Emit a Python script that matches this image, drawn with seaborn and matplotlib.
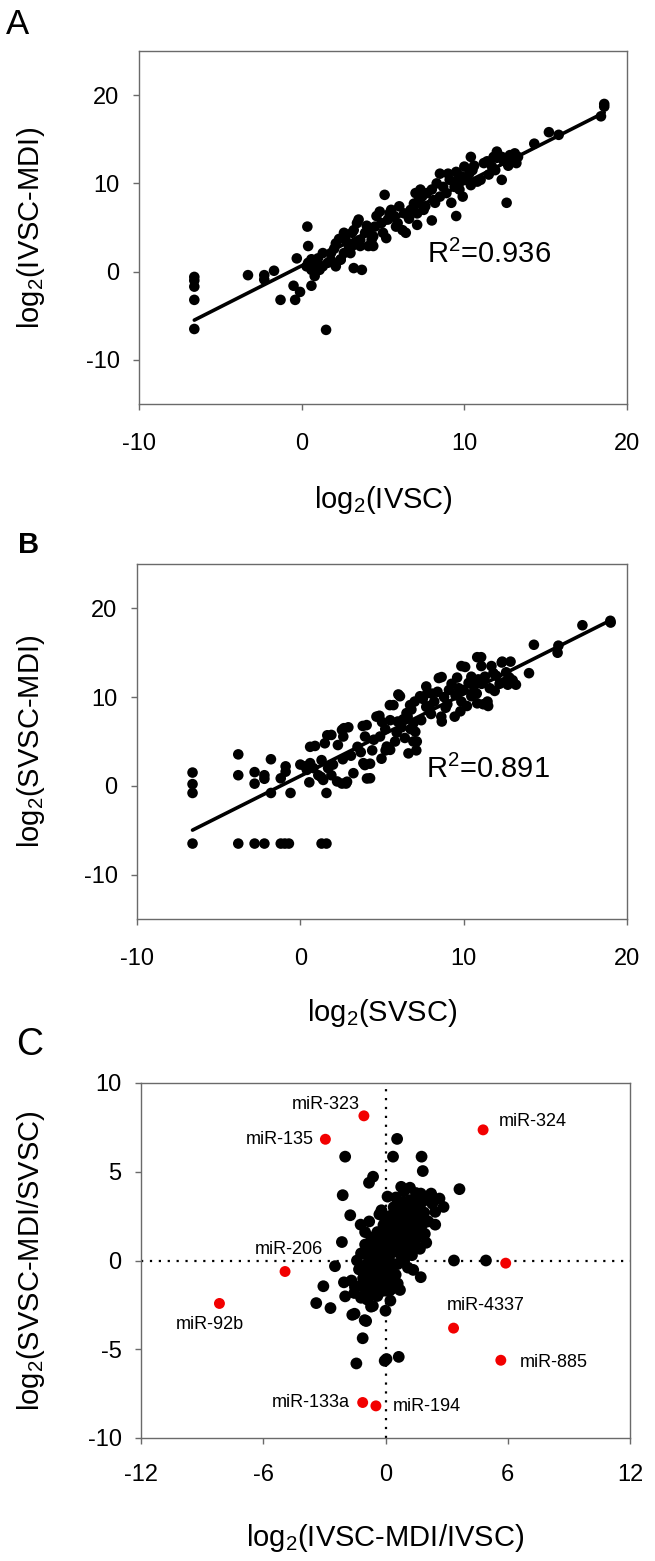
import numpy as np
import pandas as pd
import matplotlib
matplotlib.use("Agg")
import matplotlib.pyplot as plt
import seaborn as sns

# ---------------- data ----------------
# Panel A: log2(IVSC) vs log2(IVSC-MDI)
a_ivsc = [
    -6.6, -6.6, -6.6, -6.6, -6.6, -3.3, -2.3, -2.3, -1.7, -1.3,
    -0.5, -0.3, -0.4, -0.1, 0.6, 0.35, 0.4, 1.5, 3.2, 3.7,
    5.1, 12.6, 12.3, 9.5, 8.0, 7.1, 10.4, 14.3, 15.2, 15.8,
    18.4, 18.6, 18.6, 0.6, 0.4, 0.8, 1.0, 1.3, 1.8, 1.8,
    2.1, 2.3, 2.6, 2.7, 2.9, 3.0, 3.1, 3.2, 3.4, 3.5,
    3.6, 3.9, 4.1, 4.3, 4.4, 4.5, 4.6, 4.8, 4.9, 5.0,
    5.2, 5.3, 5.4, 5.7, 5.8, 5.9, 6.2, 6.3, 6.4, 6.7,
    6.9, 7.1, 7.2, 7.4, 7.6, 7.7, 8.0, 8.1, 8.2, 8.5,
    8.7, 8.9, 9.0, 9.1, 9.2, 9.4, 9.5, 9.6, 9.7, 9.9,
    10.0, 10.1, 10.3, 10.5, 10.8, 11.0, 11.2, 11.4, 11.7, 11.8,
    12.0, 12.3, 12.4, 12.8, 13.1, 13.2, 13.3, 1.3, 1.6, 2.1,
    2.4, 2.6, 3.1, 3.6, 4.1, 4.4, 0.8, 1.1, 0.3, 0.6,
    8.5, 11.9, 7.0, 7.3, 8.3, 5.5, 6.0, 2.0, 3.3, 4.0,
    10.6, 11.5, 12.7, 12.9, 6.6, 7.5, 9.8, 10.4, 12.0, 2.4,
]
a_ivsc_mdi = [
    -0.6, -1.0, -1.7, -3.2, -6.5, -0.4, -0.4, -0.9, 0.1, -3.2,
    -1.6, 1.5, -3.2, -2.3, -1.6, 5.1, 2.9, -6.6, 0.4, 0.2,
    8.7, 7.8, 10.4, 6.3, 5.8, 5.3, 13.0, 14.5, 15.8, 15.5,
    17.6, 19.0, 18.7, 0.2, 1.0, 0.7, 1.5, 2.1, 1.3, 2.1,
    3.2, 3.7, 4.4, 3.6, 2.9, 2.1, 4.4, 4.7, 5.5, 5.9,
    3.6, 4.4, 4.7, 3.6, 2.9, 5.1, 6.3, 6.8, 5.5, 4.4,
    3.8, 5.9, 6.6, 6.3, 5.1, 5.5, 4.7, 6.6, 4.4, 7.0,
    7.7, 6.6, 8.1, 8.5, 7.4, 8.9, 9.3, 8.1, 7.8, 8.5,
    9.6, 8.9, 11.1, 10.4, 7.8, 9.6, 11.3, 10.4, 9.3, 8.5,
    11.9, 10.4, 11.1, 11.5, 10.2, 10.4, 12.3, 12.5, 11.9, 13.0,
    12.9, 13.0, 12.6, 13.2, 13.4, 12.3, 13.0, 0.6, 1.0, 0.6,
    1.4, 2.1, 2.9, 2.9, 2.9, 4.0, -0.5, 0.2, 0.6, 1.4,
    11.1, 11.5, 8.9, 9.3, 10.0, 7.0, 7.4, 2.6, 3.3, 5.2,
    12.0, 11.0, 12.0, 12.4, 6.0, 7.0, 10.8, 9.8, 13.6, 1.35,
]

# Panel B: log2(SVSC) vs log2(SVSC-MDI)
b_svsc = [
    -6.6, -6.6, -6.6, -6.6, -3.8, -3.8, -3.8, -2.8, -2.8, -2.8,
    -2.2, -2.2, -2.2, -1.8, -1.8, -1.2, -1.2, -0.95, -0.7, -0.9,
    -0.9, -0.6, 0.0, 0.3, 0.6, 0.55, 1.6, 1.6, 1.3, 1.65,
    2.67, 2.55, 3.82, 4.66, 4.08, 2.8, 2.55, 1.27, 1.9, 3.95,
    5.22, 4.97, 6.62, 7.13, 6.75, 6.0, 5.48, 7.77, 8.48, 9.86,
    10.83, 12.87, 14.3, 15.8, 15.75, 17.27, 18.98, 19.0, 14.0, 12.7,
    13.2, 11.46, 10.83, 9.8, 8.66, 12.36, 11.08, 0.6, 0.4, 0.9,
    1.5, 1.4, 1.9, 2.25, 2.63, 2.86, 2.94, 3.25, 3.86, 3.96,
    4.06, 4.27, 4.27, 4.84, 4.88, 5.29, 5.5, 5.8, 5.7, 5.96,
    6.1, 6.57, 6.72, 6.92, 6.92, 7.04, 7.1, 7.33, 7.71, 7.71,
    8.04, 8.63, 8.65, 9.26, 9.45, 9.86, 10.09, 10.47, 10.47, 11.07,
    11.2, 11.5, 11.82, 12.33, 6.3, 6.5, 6.8, 7.0, 7.5, 7.9,
    8.2, 8.4, 8.8, 9.0, 9.1, 9.5, 9.7, 10.0, 10.3, 10.6,
    10.9, 11.1, 11.3, 11.6, 12.0, 12.2, 12.6, 5.2, 5.5, 5.9,
    6.2, 4.5, 3.5, 3.1, 2.6, 2.0, 1.7, 2.3, 3.7, 4.4,
    5.0, 6.4, 7.4, 8.0, 8.9, 10.2, 1.1, 0.8, 1.3, 9.6,
    10.8, 11.9, 12.8, 13.0, 12.5, 11.7,
]
b_svsc_mdi = [
    1.5, 0.2, -0.8, -6.5, 3.55, 1.2, -6.5, 1.55, 0.25, -6.5,
    1.2, 0.8, -6.5, 3.0, -0.8, 0.85, -6.5, -6.5, -6.5, 2.2,
    1.6, -0.8, 2.4, 2.2, 4.4, 0.4, -0.8, -6.5, -6.5, 5.7,
    6.5, 6.3, 6.75, 7.8, 0.83, 0.26, 0.26, 1.0, 1.2, 2.34,
    4.0, 3.06, 3.66, 5.0, 6.4, 10.3, 9.1, 10.45, 12.15, 13.5,
    14.5, 14.0, 15.9, 15.8, 15.0, 18.1, 18.6, 18.4, 12.7, 11.4,
    11.4, 9.5, 9.3, 8.4, 7.25, 14.0, 13.5, 2.56, 1.8, 4.5,
    4.8, 0.67, 5.74, 0.5, 5.56, 0.47, 6.6, 1.43, 2.56, 5.56,
    6.85, 2.5, 0.86, 7.9, 5.56, 4.43, 4.06, 5.0, 9.1, 7.25,
    10.1, 7.8, 9.1, 5.0, 7.05, 6.1, 4.0, 10.1, 8.9, 11.2,
    10.4, 7.8, 12.26, 11.5, 7.8, 9.5, 13.4, 10.1, 12.3, 14.5,
    9.2, 9.0, 12.7, 13.9, 7.5, 8.2, 8.6, 9.5, 9.8, 9.0,
    9.5, 10.6, 10.0, 9.2, 10.8, 10.2, 11.0, 10.8, 11.6, 11.3,
    12.0, 11.5, 12.3, 11.0, 12.4, 11.5, 12.8, 6.4, 7.4, 6.0,
    6.6, 5.2, 4.4, 3.4, 3.0, 2.4, 2.0, 4.6, 3.8, 4.0,
    7.2, 5.4, 7.4, 8.1, 8.8, 9.0, 1.2, 2.0, 2.9, 12.2,
    10.4, 10.7, 12.2, 11.9, 11.7, 13.5,
]

# Panel C: log2 fold changes
c_ivsc_fc = [
    0.57, -1.98, 0.37, 1.77, 1.83, -0.61, -0.81, 0.77, 3.63, -2.1,
    0.51, 1.73, 2.24, 2.65, 2.85, 2.44, 2.44, -1.73, -1.22, -2.14,
    -2.48, -2.04, -1.67, -3.05, -3.4, -2.7, -1.98, -1.53, -1.63, -1.02,
    -1.12, -0.71, 0.0, 0.24, 1.36, 1.73, 3.36, 4.93, 1.69, 1.93,
    0.71, 0.2, -0.2, 0.0, -1.43, -0.04, 0.05, 0.65, -0.95, -0.62,
    -1.52, -0.02, 0.6, -1.3, -1.2, -1.1, -1.0, -1.0, -0.9, -0.8,
    -0.8, -0.7, -0.7, -0.6, -0.6, -0.5, -0.5, -0.4, -0.4, -0.3,
    -0.3, -0.2, -0.2, -0.1, -0.1, 0.0, 0.0, 0.1, 0.1, 0.2,
    0.2, 0.3, 0.3, 0.4, 0.4, 0.5, 0.5, 0.5, 0.6, 0.6,
    0.7, 0.7, 0.8, 0.8, 0.9, 0.9, 1.0, 1.0, 1.1, 1.1,
    1.2, 1.2, 1.3, 1.3, 1.4, 1.4, 1.5, 1.5, 1.6, 1.6,
    1.7, 1.8, 1.9, 2.0, 2.0, 2.1, -1.4, -1.5, -1.2, -0.9,
    -0.4, 0.3, 0.6, -0.8, -1.0, 0.1, 1.2, 0.9, 1.5, 2.3,
    -0.3, -1.2, -1.0, -0.9, -0.8, -0.7, -0.6, -0.5, -0.5, -0.4,
    -0.3, -0.2, -0.1, -0.1, 0.0, 0.0, 0.1, 0.1, 0.2, 0.2,
    0.3, 0.3, 0.4, 0.4, 0.5, 0.5, 0.6, 0.6, 0.7, 0.7,
    0.8, 0.8, 0.9, 0.9, 1.0, 1.0, 1.1, 1.2, 1.2, 1.3,
    1.4, 1.5, 1.6, 1.7, 1.8, -1.1, -0.3, -0.8, 0.2,
]
c_svsc_fc = [
    6.85, 5.85, 5.85, 5.85, 5.04, 4.72, 4.38, 4.15, 4.02, 3.68,
    3.55, 3.77, 3.77, 3.49, 3.02, 2.74, 2.02, 2.55, 2.02, 1.04,
    -0.32, -1.23, -1.13, -1.45, -2.4, -2.68, -2.02, -1.83, -3.06, -3.36,
    -4.38, -2.6, -2.83, -2.26, -0.53, -0.94, 0.0, 0.0, 0.66, 1.5,
    -1.66, -1.7, 2.83, -1.7, -5.8, -5.65, -5.55, -5.43, -3.41, -2.56,
    -3.0, 2.34, 3.0, -0.5, 0.4, -1.0, -1.6, 0.9, -0.2, -1.3,
    0.5, 1.3, -0.7, 0.1, -1.8, 0.9, -1.0, 1.6, -0.4, 0.4,
    -1.4, 1.1, -0.8, 0.0, 2.0, 0.7, -0.5, 1.4, -1.1, 2.5,
    0.3, 1.9, -0.3, 1.0, 3.0, 0.5, 2.2, -0.8, 1.5, -0.2,
    2.7, 0.9, 1.8, 0.2, 3.3, 1.2, 2.4, 0.6, 1.6, -0.4,
    2.9, 1.0, 2.1, 0.3, 3.4, 1.4, 2.6, 0.8, 3.1, 1.9,
    2.3, 3.3, 2.7, 3.5, 1.0, 2.2, 0.0, -1.5, -2.1, -2.2,
    -2.0, -1.6, -1.3, 2.2, 1.6, 3.6, 4.1, 3.9, 3.8, 3.2,
    2.6, -1.4, -0.3, 0.3, -0.7, 0.8, -0.4, 0.3, -1.5, 0.9,
    -0.9, 0.5, -0.3, 1.4, 0.2, 1.1, -0.6, 0.8, 1.6, -0.9,
    0.6, 2.4, -0.2, 1.5, 1.1, 2.8, 0.5, 2.0, 1.4, 3.3,
    0.6, 2.3, 1.7, 0.0, 2.9, 1.2, 2.1, 0.5, 3.4, 1.6,
    2.5, 1.2, 2.6, 1.5, 2.0, -0.6, -1.8, -1.7, -1.3,
]

# highlighted miRNAs in panel C
hl_names = ["miR-323", "miR-324", "miR-135", "miR-206", "miR-92b", "",
            "miR-4337", "miR-885", "miR-133a", "miR-194"]
hl_ivsc_fc = [-1.06, 4.79, -2.95, -4.93, -8.15, 5.9, 3.34, 5.66, -1.12, -0.47]
hl_svsc_fc = [8.15, 7.36, 6.83, -0.62, -2.42, -0.15, -3.81, -5.62, -8.0, -8.19]

r2_labels = ["R$^{\\mathregular{2}}$=0.936", "R$^{\\mathregular{2}}$=0.891"]

# ---------------- style ----------------
sns.set_theme(style="white")
plt.rcParams["font.family"] = ["Liberation Sans", "DejaVu Sans"]
plt.rcParams["mathtext.fontset"] = "custom"
plt.rcParams["mathtext.rm"] = "Liberation Sans"
plt.rcParams["mathtext.it"] = "Liberation Sans:italic"
plt.rcParams["mathtext.bf"] = "Liberation Sans:bold"
plt.rcParams["axes.unicode_minus"] = False
plt.rcParams["text.color"] = "black"
plt.rcParams["axes.labelcolor"] = "black"

W, H = 655, 1561
fig = plt.figure(figsize=(W / 100, H / 100), dpi=100)
fig.patch.set_facecolor("white")

TICK_FS = 17
LABEL_FS = 21
SPINE_C = "#6a6a6a"


def px_axes(left, top, right, bottom):
    return fig.add_axes([left / W, 1 - bottom / H, (right - left) / W, (bottom - top) / H])


def style(ax, xlim, ylim, xticks, yticks, xpad, ypad):
    ax.set_xlim(*xlim)
    ax.set_ylim(*ylim)
    ax.set_xticks(xticks)
    ax.set_yticks(yticks)
    for s in ax.spines.values():
        s.set_visible(True)
        s.set_color(SPINE_C)
        s.set_linewidth(1.0)
    ax.tick_params(axis="both", which="both", direction="out", length=4,
                   width=1, color=SPINE_C, labelsize=TICK_FS, labelcolor="black")
    ax.tick_params(axis="x", pad=xpad, bottom=True, top=False)
    ax.tick_params(axis="y", pad=ypad, left=True, right=False)
    ax.grid(False)
    ax.set_facecolor("white")


def set_labels(ax, xl, yl, xl_y, yl_x):
    ax.set_xlabel(xl, fontsize=LABEL_FS, color="black")
    ax.set_ylabel(yl, fontsize=LABEL_FS, color="black")
    ax.xaxis.set_label_coords(0.5, xl_y)
    ax.yaxis.set_label_coords(yl_x, 0.5)
    ax.xaxis.label.set_va("center")
    ax.yaxis.label.set_va("center")


scatter_kws = dict(s=58, color="black", edgecolor="none", alpha=1)
line_kws = dict(color="black", linewidth=2.6)

# Panel A
axA = px_axes(139, 51, 627, 404)
dfA = pd.DataFrame({"x": a_ivsc, "y": a_ivsc_mdi})
sns.regplot(data=dfA, x="x", y="y", ci=None, ax=axA, scatter_kws=scatter_kws, line_kws=line_kws)
style(axA, (-10, 20), (-15, 25), [-10, 0, 10, 20], [-10, 0, 10, 20], 17, 10)
set_labels(axA, "log$_{\\mathregular{2}}$(IVSC)", "log$_{\\mathregular{2}}$(IVSC-MDI)", -0.272, -0.221)
axA.text(7.7, 2.0, r2_labels[0], fontsize=21, va="center", ha="left", color="black")

# Panel B
axB = px_axes(137, 564, 627, 919)
dfB = pd.DataFrame({"x": b_svsc, "y": b_svsc_mdi})
sns.regplot(data=dfB, x="x", y="y", ci=None, ax=axB, scatter_kws=scatter_kws, line_kws=line_kws)
style(axB, (-10, 20), (-15, 25), [-10, 0, 10, 20], [-10, 0, 10, 20], 17, 10)
set_labels(axB, "log$_{\\mathregular{2}}$(SVSC)", "log$_{\\mathregular{2}}$(SVSC-MDI)", -0.265, -0.216)
axB.text(7.7, 1.8, r2_labels[1], fontsize=21, va="center", ha="left", color="black")

# Panel C
axC = px_axes(141, 1083, 630, 1438)
axC.axhline(0, color="black", linestyle=(0, (1, 3)), linewidth=1.6, zorder=1)
axC.axvline(0, ymax=0.985, color="black", linestyle=(0, (1, 3)), linewidth=1.6, zorder=1)
sns.scatterplot(x=c_ivsc_fc, y=c_svsc_fc, color="black", s=72, edgecolor="none",
                ax=axC, legend=False, zorder=3)
sns.scatterplot(x=hl_ivsc_fc, y=hl_svsc_fc, color="#f20000", s=62, edgecolor="none",
                ax=axC, legend=False, zorder=4)
style(axC, (-12, 12), (-10, 10), [-12, -6, 0, 6, 12], [-10, -5, 0, 5, 10], 15, 10)
set_labels(axC, "log$_{\\mathregular{2}}$(IVSC-MDI/IVSC)", "log$_{\\mathregular{2}}$(SVSC-MDI/SVSC)", -0.282, -0.225)

label_offsets = {
    "miR-323": ((-3, 8), "right"),
    "miR-324": ((11, 6), "left"),
    "miR-135": ((-8, 0), "right"),
    "miR-206": ((3, 16), "center"),
    "miR-92b": ((-7, -15.5), "center"),
    "miR-4337": ((23, 16.5), "center"),
    "miR-885": ((14, -1.5), "left"),
    "miR-133a": ((-9, 0), "right"),
    "miR-194": ((12, -0.5), "left"),
}
for name, xv, yv in zip(hl_names, hl_ivsc_fc, hl_svsc_fc):
    if not name:
        continue
    off, ha = label_offsets[name]
    axC.annotate(name, (xv, yv), xytext=off, textcoords="offset points",
                 ha=ha, va="center", fontsize=13, color="black", zorder=5)

# panel letters
fig.text(6 / W, 1 - 8 / H, "A", fontsize=25, ha="left", va="top")
fig.text(18 / W, 1 - 531 / H, "B", fontsize=21, fontweight="bold", ha="left", va="top")
fig.text(16 / W, 1 - 1027 / H, "C", fontsize=27, ha="left", va="top")

fig.savefig("out.png", dpi=100, facecolor="white")
